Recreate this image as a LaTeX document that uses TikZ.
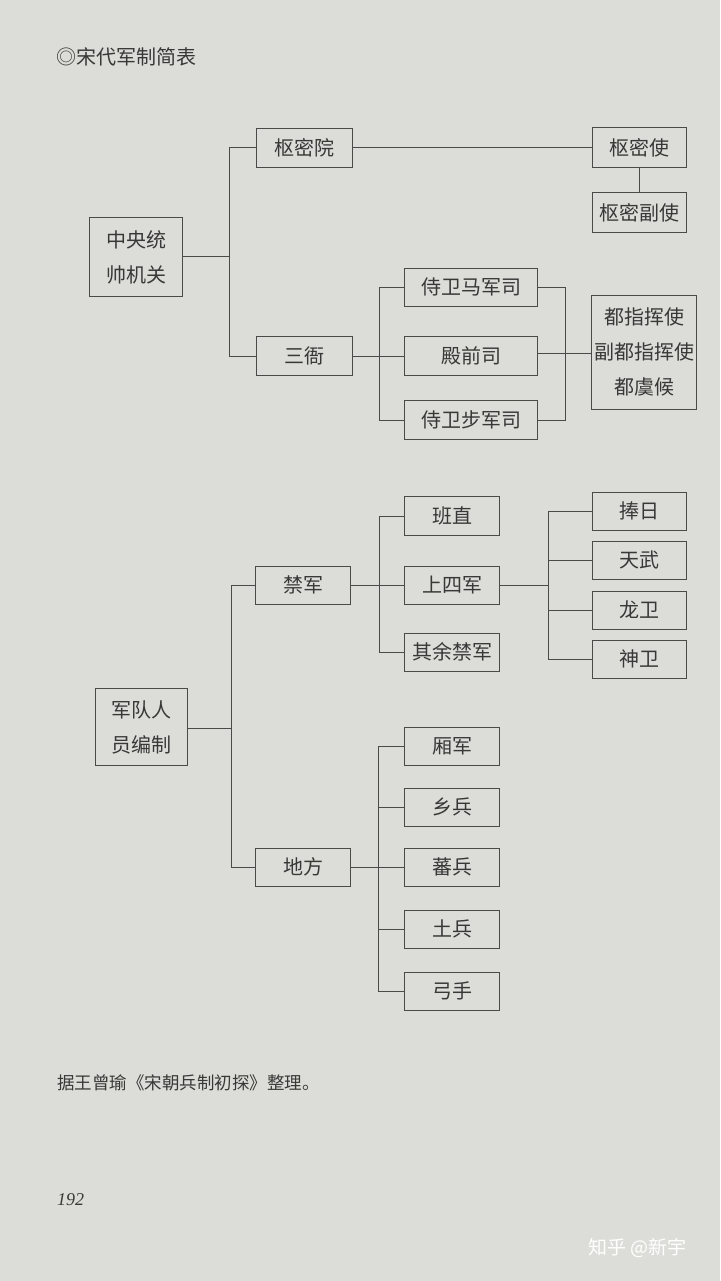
\documentclass[tikz,border=0pt]{standalone}
\usepackage{fontspec}
\newfontfamily\cjk{Noto Sans CJK SC}
\newfontfamily\serifit{Liberation Serif}
\definecolor{bgc}{HTML}{DCDCD8}
\definecolor{linec}{HTML}{4A4A4A}
\definecolor{textc}{HTML}{383838}
\begin{document}
\begin{tikzpicture}[x=1pt,y=-1pt,
  box/.style={draw=linec, line width=1pt, fill=bgc, text=textc, inner sep=0pt,
     align=center, font=\cjk\fontsize{20}{35}\selectfont},
  sbox/.style={box, minimum width=95, minimum height=38},
  conn/.style={draw=linec, line width=1pt}]
\fill[bgc] (0,0) rectangle (720,1281);
\useasboundingbox (0,0) rectangle (720,1281);

% title
\node[anchor=west, text=textc, font=\cjk\fontsize{20}{22}\selectfont, inner sep=0] (title) at (56,57) {◎宋代军制简表};

% ---- top part
\node[box, minimum width=93, minimum height=78] (zy) at (136,257) {中央统\\帅机关};
\node[sbox, minimum width=96, minimum height=39] (smy) at (304,148) {枢密院};
\node[sbox, minimum width=96, minimum height=39] (sy) at (304,356) {三衙};
\node[sbox, minimum width=94, minimum height=40] (sms) at (639,148) {枢密使};
\node[sbox, minimum width=94, minimum height=40] (smfs) at (639,213) {枢密副使};
\node[sbox, minimum width=133, minimum height=38] (mj) at (471,287) {侍卫马军司};
\node[sbox, minimum width=133, minimum height=39] (dq) at (471,356) {殿前司};
\node[sbox, minimum width=133, minimum height=39] (bj) at (471,420) {侍卫步军司};
\node[box, minimum width=105, minimum height=114] (zhs) at (644,352) {都指挥使\\副都指挥使\\都虞候};

\coordinate (t1) at (229,256);
\draw[conn] (zy.east |- t1) -- (t1);
\draw[conn] (smy.west) -| (t1);
\draw[conn] (sy.west) -| (t1);
\draw[conn] (smy.east) -- (sms.west);
\draw[conn] (sms.south) -- (smfs.north);
\coordinate (b1) at (379,356);
\draw[conn] (sy.east) -- (dq.west);
\draw[conn] (mj.west) -| (b1);
\draw[conn] (bj.west) -| (b1);
\coordinate (b2) at (565,353);
\draw[conn] (mj.east) -| (b2);
\draw[conn] (bj.east) -| (b2);
\draw[conn] (dq.east |- b2) -- (zhs.west |- b2);

% ---- lower part
\node[box, minimum width=92, minimum height=77] (jd) at (141,727) {军队人\\员编制};
\node[sbox] (jj) at (303,585) {禁军};
\node[sbox] (df) at (303,867) {地方};
\node[sbox, minimum height=39] (bz) at (452,516) {班直};
\node[sbox] (ssj) at (452,585) {上四军};
\node[sbox] (qy) at (452,652) {其余禁军};
\node[sbox, minimum width=94] (pr) at (639,511) {捧日};
\node[sbox, minimum width=94] (tw) at (639,560) {天武};
\node[sbox, minimum width=94] (lw) at (639,610) {龙卫};
\node[sbox, minimum width=94] (sw) at (639,659) {神卫};
\node[sbox] (xj) at (452,746) {厢军};
\node[sbox] (xb) at (452,807) {乡兵};
\node[sbox] (fb) at (452,867) {蕃兵};
\node[sbox] (tb) at (452,929) {土兵};
\node[sbox] (gs) at (452,991) {弓手};

\coordinate (t2) at (231,728);
\draw[conn] (jd.east |- t2) -- (t2);
\draw[conn] (jj.west) -| (t2);
\draw[conn] (df.west) -| (t2);
\coordinate (b3) at (379,585);
\draw[conn] (jj.east) -- (ssj.west);
\draw[conn] (bz.west) -| (b3);
\draw[conn] (qy.west) -| (b3);
\coordinate (b4) at (548,585);
\draw[conn] (ssj.east) -- (b4);
\draw[conn] (pr.west) -| (b4);
\draw[conn] (tw.west) -| (b4);
\draw[conn] (lw.west) -| (b4);
\draw[conn] (sw.west) -| (b4);
\coordinate (b5) at (378,867);
\draw[conn] (df.east) -- (fb.west);
\draw[conn] (xj.west) -| (b5);
\draw[conn] (xb.west) -| (b5);
\draw[conn] (tb.west) -| (b5);
\draw[conn] (gs.west) -| (b5);

% footer
\node[anchor=west, text=textc, font=\cjk\fontsize{17.5}{20}\selectfont, inner sep=0] (src) at (57,1083) {据王曾瑜《宋朝兵制初探》整理。};
\node[anchor=west, text=textc, font=\serifit\itshape\fontsize{18}{20}\selectfont, inner sep=0] (page) at (57,1200) {192};
\node[anchor=west, text=white, font=\cjk\fontsize{19}{22}\selectfont, inner sep=0] (wm) at (588,1248) {知乎 @新宇};
\end{tikzpicture}
\end{document}
